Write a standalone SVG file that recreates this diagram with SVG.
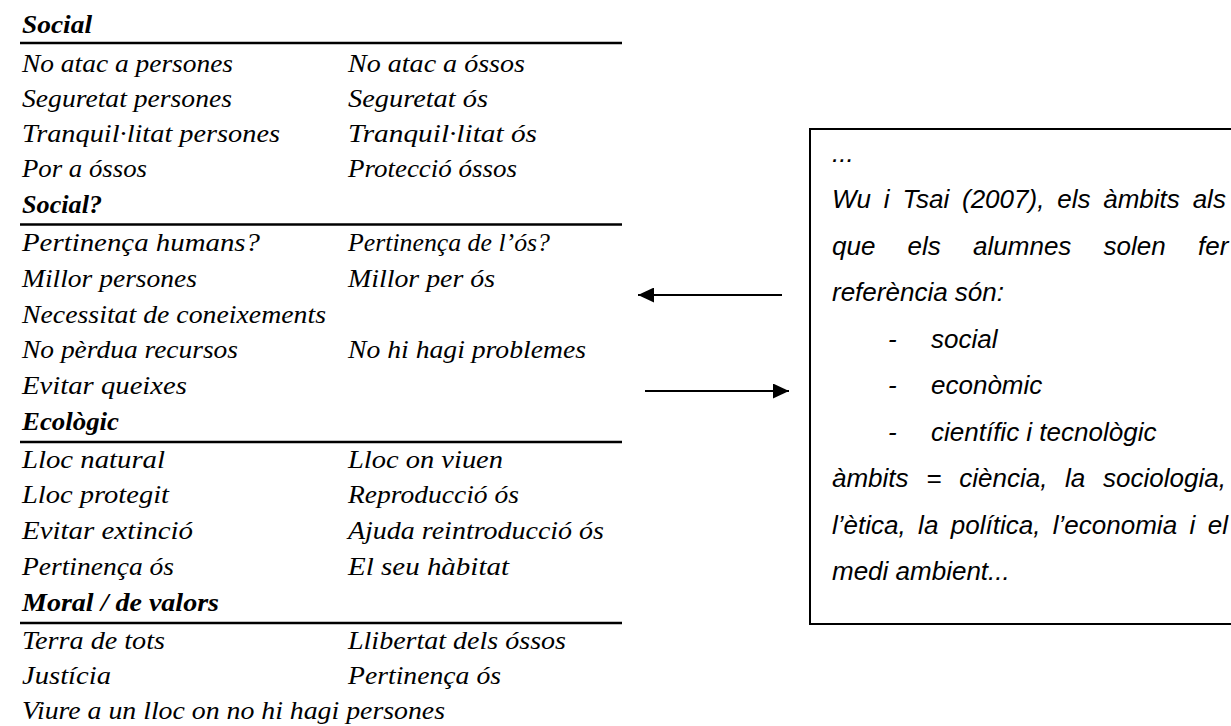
<svg xmlns="http://www.w3.org/2000/svg" width="1231" height="726" viewBox="0 0 1231 726">
<style>
.h{font-family:"Liberation Serif","DejaVu Serif",serif;font-style:italic;font-weight:bold;font-size:26px;fill:#000}
.t{font-family:"Liberation Serif","DejaVu Serif",serif;font-style:italic;font-size:26px;fill:#000}
.b{font-family:"Liberation Sans",Arial,sans-serif;font-style:italic;font-size:26px;fill:#000}
.rule{stroke:#000;stroke-width:2.5}
.conn{stroke:#000;stroke-width:2;fill:none}
</style>
<defs>
<marker id="ah" markerUnits="userSpaceOnUse" markerWidth="16" markerHeight="15" refX="16" refY="7.5" orient="auto">
<path d="M0,0 L16,7.5 L0,15 z" fill="#000"/>
</marker>
</defs>
<rect width="1231" height="726" fill="#fff"/>
<g id="table" lengthAdjust="spacingAndGlyphs">
<text class="h" x="22" y="33" textLength="70" lengthAdjust="spacingAndGlyphs">Social</text>
<line class="rule" x1="20" y1="43" x2="622" y2="43"/>
<text class="t" x="22" y="72" textLength="211" lengthAdjust="spacingAndGlyphs">No atac a persones</text><text class="t" x="348" y="72" textLength="177" lengthAdjust="spacingAndGlyphs">No atac a óssos</text>
<text class="t" x="22" y="107" textLength="210" lengthAdjust="spacingAndGlyphs">Seguretat persones</text><text class="t" x="348" y="107" textLength="140" lengthAdjust="spacingAndGlyphs">Seguretat ós</text>
<text class="t" x="22" y="142" textLength="258" lengthAdjust="spacingAndGlyphs">Tranquil·litat persones</text><text class="t" x="348" y="142" textLength="189" lengthAdjust="spacingAndGlyphs">Tranquil·litat ós</text>
<text class="t" x="22" y="177" textLength="125" lengthAdjust="spacingAndGlyphs">Por a óssos</text><text class="t" x="348" y="177" textLength="169" lengthAdjust="spacingAndGlyphs">Protecció óssos</text>
<text class="h" x="22" y="213" textLength="80" lengthAdjust="spacingAndGlyphs">Social?</text>
<line class="rule" x1="20" y1="224.5" x2="622" y2="224.5"/>
<text class="t" x="22" y="251" textLength="238" lengthAdjust="spacingAndGlyphs">Pertinença humans?</text><text class="t" x="348" y="251" textLength="202" lengthAdjust="spacingAndGlyphs">Pertinença de l’ós?</text>
<text class="t" x="22" y="287" textLength="175" lengthAdjust="spacingAndGlyphs">Millor persones</text><text class="t" x="348" y="287" textLength="147" lengthAdjust="spacingAndGlyphs">Millor per ós</text>
<text class="t" x="22" y="323" textLength="304" lengthAdjust="spacingAndGlyphs">Necessitat de coneixements</text>
<text class="t" x="22" y="358" textLength="216" lengthAdjust="spacingAndGlyphs">No pèrdua recursos</text><text class="t" x="348" y="358" textLength="238" lengthAdjust="spacingAndGlyphs">No hi hagi problemes</text>
<text class="t" x="22" y="394" textLength="165" lengthAdjust="spacingAndGlyphs">Evitar queixes</text>
<text class="h" x="22" y="430" textLength="97" lengthAdjust="spacingAndGlyphs">Ecològic</text>
<line class="rule" x1="20" y1="442" x2="622" y2="442"/>
<text class="t" x="22" y="468" textLength="143" lengthAdjust="spacingAndGlyphs">Lloc natural</text><text class="t" x="348" y="468" textLength="155" lengthAdjust="spacingAndGlyphs">Lloc on viuen</text>
<text class="t" x="22" y="503" textLength="147" lengthAdjust="spacingAndGlyphs">Lloc protegit</text><text class="t" x="348" y="503" textLength="171" lengthAdjust="spacingAndGlyphs">Reproducció ós</text>
<text class="t" x="22" y="539" textLength="171" lengthAdjust="spacingAndGlyphs">Evitar extinció</text><text class="t" x="348" y="539" textLength="256" lengthAdjust="spacingAndGlyphs">Ajuda reintroducció ós</text>
<text class="t" x="22" y="575" textLength="152" lengthAdjust="spacingAndGlyphs">Pertinença ós</text><text class="t" x="348" y="575" textLength="161" lengthAdjust="spacingAndGlyphs">El seu hàbitat</text>
<text class="h" x="22" y="611" textLength="197" lengthAdjust="spacingAndGlyphs">Moral / de valors</text>
<line class="rule" x1="20" y1="623" x2="622" y2="623"/>
<text class="t" x="22" y="649" textLength="143" lengthAdjust="spacingAndGlyphs">Terra de tots</text><text class="t" x="348" y="649" textLength="218" lengthAdjust="spacingAndGlyphs">Llibertat dels óssos</text>
<text class="t" x="22" y="684" textLength="89" lengthAdjust="spacingAndGlyphs">Justícia</text><text class="t" x="348" y="684" textLength="153" lengthAdjust="spacingAndGlyphs">Pertinença ós</text>
<text class="t" x="22" y="719" textLength="423" lengthAdjust="spacingAndGlyphs">Viure a un lloc on no hi hagi persones</text>
</g>
<g id="note">
<rect x="810" y="129" width="440" height="495" fill="none" stroke="#000" stroke-width="2"/>
<text class="b" x="832" y="161.5">...</text>
<text class="b" x="832" y="208" word-spacing="5.6">Wu i Tsai (2007), els àmbits als</text>
<text class="b" x="832" y="254.5" word-spacing="25">que els alumnes solen fer</text>
<text class="b" x="832" y="301">referència són:</text>
<text class="b" x="888" y="347.5">-</text><text class="b" x="931" y="347.5">social</text>
<text class="b" x="888" y="394">-</text><text class="b" x="931" y="394">econòmic</text>
<text class="b" x="888" y="440.5">-</text><text class="b" x="931" y="440.5">científic i tecnològic</text>
<text class="b" x="832" y="487" word-spacing="10.5">àmbits = ciència, la sociologia,</text>
<text class="b" x="832" y="533.5" word-spacing="5.2">l’ètica, la política, l’economia i el</text>
<text class="b" x="832" y="580">medi ambient...</text>
</g>
<g id="connectors">
<line class="conn" x1="782" y1="295" x2="638" y2="295" marker-end="url(#ah)"/>
<line class="conn" x1="645" y1="391" x2="789" y2="391" marker-end="url(#ah)"/>
</g>
</svg>
